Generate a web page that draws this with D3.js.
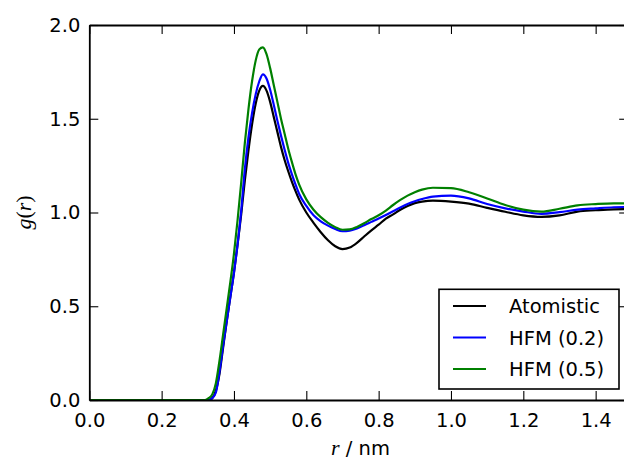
<!DOCTYPE html>
<html>
<head>
<meta charset="utf-8">
<script src="https://cdnjs.cloudflare.com/ajax/libs/d3/7.8.5/d3.min.js"></script>
<style>
    html, body { margin: 0; padding: 0; background: white; }
    svg { display: block; font-family: "DejaVu Sans", sans-serif; }
</style>
</head>
<body>
<div id="chart"></div>
<script>
// r values (nm) shared by all three curves
var rValues = [0.00, 0.30, 0.32, 0.33, 0.34, 0.35, 0.36, 0.37, 0.38, 0.39, 0.40, 0.41, 0.42, 0.43, 0.44, 0.45,
    0.46, 0.47, 0.48, 0.49, 0.50, 0.51, 0.52, 0.53, 0.54, 0.55, 0.56, 0.57, 0.58, 0.60, 0.62, 0.64, 0.66, 0.68,
    0.70, 0.72, 0.74, 0.76, 0.78, 0.80, 0.82, 0.84, 0.86, 0.88, 0.90, 0.92, 0.95, 1.00, 1.05, 1.10, 1.15, 1.20,
    1.25, 1.30, 1.35, 1.40, 1.45, 1.50];

var atomistic = [0, 0, 0, 0.0, 0.01, 0.05, 0.14, 0.28, 0.42, 0.55, 0.68, 0.83, 0.99, 1.17, 1.33, 1.47,
    1.58, 1.65, 1.675, 1.65, 1.59, 1.51, 1.43, 1.35, 1.28, 1.22, 1.165, 1.115, 1.07, 1.0, 0.945, 0.895, 0.852, 0.82,
    0.805, 0.813, 0.838, 0.872, 0.905, 0.935, 0.967, 0.99, 1.015, 1.035, 1.05, 1.058, 1.063, 1.058, 1.047, 1.025, 1.004, 0.985,
    0.977, 0.985, 1.005, 1.012, 1.017, 1.018];

var hfm02 = [0, 0, 0, 0.0, 0.01, 0.04, 0.15, 0.29, 0.42, 0.55, 0.68, 0.83, 1.01, 1.23, 1.40, 1.53,
    1.63, 1.70, 1.737, 1.715, 1.655, 1.575, 1.49, 1.41, 1.335, 1.265, 1.205, 1.15, 1.10, 1.035, 0.985, 0.953, 0.93, 0.912,
    0.90, 0.903, 0.915, 0.932, 0.95, 0.968, 0.987, 1.007, 1.027, 1.045, 1.06, 1.072, 1.085, 1.09, 1.075, 1.045, 1.022, 1.005,
    0.993, 1.002, 1.015, 1.022, 1.028, 1.03];

var hfm05 = [0, 0, 0, 0.01, 0.03, 0.09, 0.21, 0.35, 0.49, 0.63, 0.78, 0.96, 1.16, 1.37, 1.55, 1.70,
    1.81, 1.87, 1.881, 1.845, 1.77, 1.68, 1.59, 1.50, 1.42, 1.34, 1.27, 1.205, 1.15, 1.07, 1.015, 0.975, 0.945, 0.922,
    0.908, 0.91, 0.923, 0.943, 0.965, 0.985, 1.01, 1.04, 1.067, 1.09, 1.108, 1.122, 1.132, 1.13, 1.108, 1.075, 1.04, 1.015,
    1.005, 1.02, 1.038, 1.045, 1.049, 1.048];

var seriesNames = ["Atomistic", "HFM (0.2)", "HFM (0.5)"];
var seriesColors = ["black", "#0000ff", "#008000"];
var xTicks = [0.0, 0.2, 0.4, 0.6, 0.8, 1.0, 1.2, 1.4];
var yTicks = [0.0, 0.5, 1.0, 1.5, 2.0];

document.addEventListener("DOMContentLoaded", function() {
    var width = 624, height = 464;
    var left = 89.3, right = 628.2, top = 25, bottom = 400;

    var svg = d3.select("#chart")
        .append("svg")
        .attr("width", width)
        .attr("height", height);

    var xScale = d3.scaleLinear().domain([0, 1.49]).range([left, right]);
    var yScale = d3.scaleLinear().domain([0, 2.0]).range([bottom, top]);

    // clip the curves to the axes box
    svg.append("clipPath").attr("id", "plotclip")
        .append("rect")
        .attr("x", left).attr("y", top)
        .attr("width", right - left).attr("height", bottom - top);

    var series = [atomistic, hfm02, hfm05];

    var line = d3.line()
        .x(function(d) { return xScale(d[0]); })
        .y(function(d) { return yScale(d[1]); })
        .curve(d3.curveMonotoneX);

    svg.append("g")
        .attr("clip-path", "url(#plotclip)")
        .selectAll("path")
        .data(series)
        .enter()
        .append("path")
        .attr("d", function(vals) {
            return line(rValues.map(function(r, i) { return [r, vals[i]]; }));
        })
        .attr("fill", "none")
        .attr("stroke", function(d, i) { return seriesColors[i]; })
        .attr("stroke-width", 2.2)
        .attr("stroke-linejoin", "round");

    // axes: ticks point inward on all four sides
    var tickLen = 9;
    var fontSize = 19.5;

    var xBottom = svg.append("g")
        .attr("transform", "translate(0," + bottom + ")")
        .call(d3.axisBottom(xScale).tickValues(xTicks).tickSizeInner(-tickLen).tickSizeOuter(0)
            .tickPadding(tickLen + 4).tickFormat(d3.format(".1f")));
    var xTop = svg.append("g")
        .attr("transform", "translate(0," + top + ")")
        .call(d3.axisTop(xScale).tickValues(xTicks).tickSizeInner(-tickLen).tickSizeOuter(0).tickFormat(""));
    var yLeft = svg.append("g")
        .attr("transform", "translate(" + left + ",0)")
        .call(d3.axisLeft(yScale).tickValues(yTicks).tickSizeInner(-tickLen).tickSizeOuter(0)
            .tickPadding(tickLen + 0).tickFormat(d3.format(".1f")));
    var yRight = svg.append("g")
        .attr("transform", "translate(" + right + ",0)")
        .call(d3.axisRight(yScale).tickValues(yTicks).tickSizeInner(-tickLen).tickSizeOuter(0).tickFormat(""));

    [xBottom, xTop, yLeft, yRight].forEach(function(ax) {
        ax.select(".domain").attr("stroke", "black").attr("stroke-width", 1.8);
        ax.selectAll(".tick line").attr("stroke", "black").attr("stroke-width", 1.1);
        ax.selectAll("text")
            .attr("fill", "black")
            .style("font-family", "'DejaVu Sans', sans-serif")
            .style("font-size", fontSize + "px");
    });
    xBottom.selectAll("text").attr("dy", "0.71em");

    // axis labels
    svg.append("text")
        .attr("x", (left + 631.8) / 2)
        .attr("y", 455)
        .attr("text-anchor", "middle")
        .style("font-size", fontSize + "px")
        .call(function(t) {
            t.append("tspan").text("r").style("font-family", "'Liberation Serif', serif")
                .style("font-style", "italic").style("font-size", "22px");
            t.append("tspan").text(" / nm");
        });

    svg.append("text")
        .attr("transform", "translate(31," + ((top + bottom) / 2) + ") rotate(-90)")
        .attr("text-anchor", "middle")
        .style("font-family", "'Liberation Serif', serif")
        .style("font-size", "22px")
        .call(function(t) {
            t.append("tspan").text("g").style("font-style", "italic");
            t.append("tspan").text("(");
            t.append("tspan").text("r").style("font-style", "italic");
            t.append("tspan").text(")");
        });

    // legend box in the lower right
    var legend = svg.append("g");
    legend.append("rect")
        .attr("x", 439).attr("y", 289.3)
        .attr("width", 180).attr("height", 99.7)
        .attr("fill", "white")
        .attr("stroke", "black")
        .attr("stroke-width", 1.6);

    var rows = legend.selectAll("g.row")
        .data(seriesNames)
        .enter()
        .append("g")
        .attr("class", "row")
        .attr("transform", function(d, i) { return "translate(0," + (306 + i * 31.5) + ")"; });
    rows.append("line")
        .attr("x1", 453).attr("x2", 486)
        .attr("stroke", function(d, i) { return seriesColors[i]; })
        .attr("stroke-width", 2.2);
    rows.append("text")
        .attr("x", 509)
        .attr("dy", "0.36em")
        .style("font-size", fontSize + "px")
        .text(function(d) { return d; });
});
</script>
</body>
</html>
